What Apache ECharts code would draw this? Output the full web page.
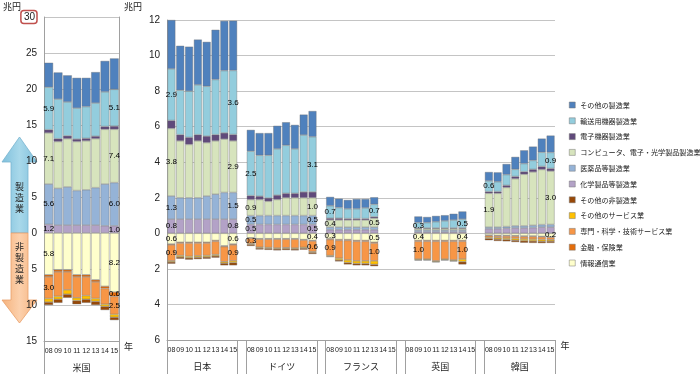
<!DOCTYPE html>
<html><head><meta charset="utf-8">
<script src="https://cdn.jsdelivr.net/npm/echarts@6/dist/echarts.min.js"></script>
<style>html,body{margin:0;padding:0;background:#fff}#c{width:700px;height:374px}</style>
</head><body><div id="c"></div>
<script>
// ---- categories ----
const years = ['08','09','10','11','12','13','14','15'];
const countries = ['米国','日本','ドイツ','フランス','英国','韓国'];
const yTicksUS = [-15,-10,-5,0,5,10,15,20,25,30];
const yTicksOther = [-6,-4,-2,0,2,4,6,8,10,12];

// ---- series values (兆円), 8 years per country: 米国, 日本, ドイツ, フランス, 英国, 韓国 ----
// manufacturing (above zero)
const otherMfg = [ // その他の製造業
  3.4,3.7,3.7,4.2,4.0,4.3,4.3,4.3,
  2.75,2.5,2.5,2.55,2.5,2.8,2.8,2.8,
  1.2,1.25,1.25,1.3,1.3,1.35,1.15,1.45,
  0.5,0.5,0.5,0.55,0.5,0.4,null,null,
  null,0.35,0.32,0.33,0.32,0.35,0.43,null,
  0.5,0.53,0.6,0.7,0.75,0.78,0.77,0.95];
const transport = [ // 輸送用機器製造業
  5.9,5.5,4.7,4.3,4.4,4.6,4.8,5.1,
  2.9,2.5,2.6,2.8,2.8,3.1,3.5,3.6,
  2.5,2.3,2.4,2.6,2.7,2.5,3.2,3.1,
  0.7,0.6,0.55,0.55,0.6,0.7,null,null,
  null,0.3,0.3,0.35,0.4,0.45,0.5,null,
  0.6,0.55,0.6,0.4,0.45,0.5,0.8,0.9];
const electronic = [ // 電子機器製造業
  0.45,0.4,0.4,0.35,0.35,0.35,0.4,0.45,
  0.45,0.35,0.4,0.35,0.37,0.35,0.35,0.36,
  0.22,0.19,0.19,0.25,0.25,0.25,0.33,0.33,
  0.1,0.1,0.08,0.08,0.08,0.08,null,null,
  null,0.04,0.04,0.04,0.04,0.04,0.04,null,
  0.1,0.1,0.12,0.13,0.15,0.15,0.17,0.15];
const computer = [ // コンピュータ、電子・光学製品製造業
  7.1,6.5,6.7,6.8,6.8,6.8,7.6,7.4,
  3.8,3.2,3.0,3.2,3.0,3.0,3.0,2.9,
  0.9,0.9,0.8,0.9,1.0,1.0,1.0,1.0,
  0.4,0.4,0.4,0.4,0.4,0.5,null,null,
  null,0.08,0.08,0.08,0.08,0.08,0.08,null,
  1.9,1.9,2.2,2.65,2.9,3.0,3.1,3.0];
const pharma = [ // 医薬品等製造業
  5.6,5.1,5.3,4.8,4.9,5.2,5.8,6.0,
  1.3,1.2,1.2,1.2,1.3,1.4,1.5,1.5,
  0.5,0.5,0.5,0.5,0.5,0.5,0.5,0.5,
  0.15,0.15,0.15,0.15,0.15,0.15,null,null,
  null,0.1,0.1,0.1,0.1,0.1,0.1,null,
  0.1,0.1,0.1,0.12,0.12,0.13,0.14,0.15];
const chemical = [ // 化学製品等製造業
  1.2,1.1,1.1,1.1,1.1,1.1,1.0,1.0,
  0.8,0.8,0.8,0.8,0.8,0.8,0.8,0.8,
  0.5,0.5,0.5,0.5,0.5,0.5,0.5,0.5,
  0.2,0.2,0.2,0.2,0.2,0.2,null,null,
  null,0.08,0.08,0.08,0.08,0.08,0.08,null,
  0.25,0.25,0.28,0.3,0.3,0.32,0.35,0.35];
// non-manufacturing (drawn below zero)
const infoComm = [ // 情報通信業
  5.8,5.1,5.1,5.8,5.8,6.5,7.4,8.2,
  0.6,0.5,0.5,0.5,0.5,0.4,0.7,0.6,
  0.25,0.3,0.3,0.3,0.3,0.3,0.35,0.4,
  0.3,0.35,0.35,0.4,0.4,0.5,null,null,
  null,0.4,0.4,0.4,0.4,0.4,0.4,null,
  0.1,0.12,0.12,0.13,0.15,0.15,0.17,0.2];
const finance = [ // 金融・保険業
  0.3,0.3,0.3,0.3,0.3,0.3,0.3,0.6,
  0.05,0.05,0.05,0.05,0.05,0.05,0.05,0.05,
  0.03,0.03,0.03,0.03,0.03,0.03,0.03,0.03,
  0.05,0.05,0.05,0.05,0.05,0.05,null,null,
  null,0.05,0.05,0.05,0.05,0.05,0.05,null,
  0.03,0.03,0.03,0.03,0.03,0.03,0.03,0.03];
const professional = [ // 専門・科学・技術サービス業
  3.0,3.4,2.5,2.9,2.6,2.3,2.2,2.5,
  0.9,0.7,0.75,0.72,0.7,0.75,0.85,0.9,
  0.3,0.45,0.47,0.5,0.48,0.5,0.41,0.6,
  0.9,1.0,1.1,1.1,1.1,1.0,null,null,
  null,1.0,1.0,1.1,1.0,1.05,1.0,null,
  0.1,0.1,0.12,0.13,0.14,0.15,0.15,0.13];
const otherService = [ // その他のサービス業
  0.5,0.4,0.6,0.4,0.5,0.4,0.3,0.4,
  0.06,0.08,0.08,0.08,0.08,0.07,0.08,0.1,
  0.05,0.05,0.05,0.05,0.05,0.05,0.05,0.05,
  0.05,0.1,0.15,0.15,0.15,0.2,null,null,
  null,0.05,0.05,0.05,0.05,0.05,0.15,null,
  0.06,0.08,0.08,0.1,0.1,0.1,0.1,0.08];
const otherNonMfg = [ // その他の非製造業
  0.4,0.5,0.5,0.5,0.5,0.5,0.5,0.4,
  0.1,0.1,0.1,0.1,0.1,0.1,0.12,0.15,
  0.08,0.08,0.08,0.08,0.08,0.08,0.08,0.08,
  0.03,0.08,0.1,0.1,0.1,0.1,null,null,
  null,0.03,0.02,0.03,0.02,0.03,0.15,null,
  0.1,0.1,0.1,0.1,0.11,0.11,0.1,0.1];

// which segments carry a value label on the first / last bar of each country
const labelFirst = [
  ['trn','cmp','phm','chm','ict','pro'],
  ['trn','cmp','phm','chm','ict','pro'],
  ['trn','cmp','phm','chm','pro'],
  ['trn','cmp','ict','pro'],
  ['trn','ict','pro'],
  ['trn','cmp']];
const labelLast = [
  ['trn','cmp','phm','chm','ict','fin','pro'],
  ['trn','cmp','phm','chm','ict','pro'],
  ['trn','cmp','phm','chm','ict','pro'],
  ['trn','cmp','ict','pro'],
  ['trn','ict','pro'],
  ['trn','cmp','ict']];

// ---- series definitions (stack order: from zero outward) ----
const seriesDefs = [
  {key:'chm', name:'化学製品等製造業', data:chemical, sign:1, color:'#b3a2c7'},
  {key:'phm', name:'医薬品等製造業', data:pharma, sign:1, color:'#95b3d7'},
  {key:'cmp', name:'コンピュータ、電子・光学製品製造業', data:computer, sign:1, color:'#d7e4bd'},
  {key:'ele', name:'電子機器製造業', data:electronic, sign:1, color:'#604a7b'},
  {key:'trn', name:'輸送用機器製造業', data:transport, sign:1, color:'#93cddd'},
  {key:'oth', name:'その他の製造業', data:otherMfg, sign:1, color:'#4f81bd'},
  {key:'ict', name:'情報通信業', data:infoComm, sign:-1, color:'#ffffcc'},
  {key:'fin', name:'金融・保険業', data:finance, sign:-1, color:'#e46c0a'},
  {key:'pro', name:'専門・科学・技術サービス業', data:professional, sign:-1, color:'#f79646'},
  {key:'svc', name:'その他のサービス業', data:otherService, sign:-1, color:'#ffc000'},
  {key:'nmf', name:'その他の非製造業', data:otherNonMfg, sign:-1, color:'#984807'}
];
const legendOrder = ['その他の製造業','輸送用機器製造業','電子機器製造業','コンピュータ、電子・光学製品製造業',
  '医薬品等製造業','化学製品等製造業','その他の非製造業','その他のサービス業','専門・科学・技術サービス業','金融・保険業','情報通信業'];

// ---- derived category layout ----
const rightCats = [];
for (let c = 1; c < countries.length; c++) {
  years.forEach(y => rightCats.push(y));
  if (c < countries.length - 1) rightCats.push('');
}
const groupCenter = {}; // value-axis position -> country name
for (let c = 1; c < countries.length; c++) groupCenter[(c - 1) * 9 + 4] = countries[c];

function firstLast(c) {
  const idx = [];
  for (let y = 0; y < years.length; y++) if (chemical[c * 8 + y] != null) idx.push(y);
  return [idx[0], idx[idx.length - 1]];
}
function item(def, c, y) {
  const v = def.data[c * 8 + y];
  if (v == null) return null;
  const [f, l] = firstLast(c);
  const show = (y === f && labelFirst[c].includes(def.key)) || (y === l && labelLast[c].includes(def.key));
  return show ? {value: def.sign * v, label: {show: true}} : def.sign * v;
}
const labelStyle = {
  position: 'inside', color: '#000', fontSize: 8, fontFamily: 'Liberation Sans, Arial',
  textBorderWidth: 0, formatter: p => Math.abs(p.value).toFixed(1)
};
const barStyle = c => ({color: c, borderColor: 'rgba(110,110,110,0.75)', borderWidth: 0.5});

const series = [];
seriesDefs.forEach(def => {
  const us = years.map((y, i) => item(def, 0, i));
  const right = [];
  for (let c = 1; c < countries.length; c++) {
    years.forEach((y, i) => right.push(item(def, c, i)));
    if (c < countries.length - 1) right.push(null);
  }
  series.push({name: def.name, type: 'bar', xAxisIndex: 0, yAxisIndex: 0, stack: 'us',
    barCategoryGap: '6%', data: us, itemStyle: barStyle(def.color), label: labelStyle});
  series.push({name: def.name, type: 'bar', xAxisIndex: 2, yAxisIndex: 2, stack: 'other',
    barCategoryGap: '10%', data: right, itemStyle: barStyle(def.color), label: labelStyle});
});

const gridLine = {show: true, lineStyle: {color: '#c4c4c4', width: 1}};
const axisGray = {show: true, lineStyle: {color: '#a0a0a0', width: 1}};
const numFont = 'Liberation Sans, Arial';
const cjk = 'Noto Sans CJK JP';
const sepTicks = {show: true, length: 34, lineStyle: {color: '#a0a0a0', width: 1}};

const chart = echarts.init(document.getElementById('c'), null, {renderer: 'canvas'});
chart.setOption({
  animation: false,
  backgroundColor: '#fff',
  grid: [
    {left: 44, top: 17, width: 75, height: 324},
    {left: 167, top: 20, width: 388, height: 320}
  ],
  xAxis: [
    {type: 'category', gridIndex: 0, data: years, axisLine: {show: true, onZero: false, lineStyle: {color: '#a0a0a0'}},
      axisTick: Object.assign({}, sepTicks, {interval: (i) => i === 0}),
      axisLabel: {interval: 0, fontSize: 7, margin: 7, color: '#222', fontFamily: numFont},
      name: '年', nameLocation: 'end', nameGap: 3,
      nameTextStyle: {fontSize: 9, color: '#222', fontFamily: cjk, verticalAlign: 'top', padding: [1, 0, 0, 0]}},
    {type: 'value', gridIndex: 0, min: 0, max: 8, interval: 1, position: 'bottom',
      axisLine: {show: false}, axisTick: {show: false}, splitLine: {show: false},
      axisLabel: {margin: 22, fontSize: 9, color: '#222', fontFamily: cjk, formatter: v => v === 4 ? countries[0] : ''}},
    {type: 'category', gridIndex: 1, data: rightCats, axisLine: {show: true, onZero: false, lineStyle: {color: '#a0a0a0'}},
      axisTick: Object.assign({}, sepTicks, {interval: (i, v) => i === 0 || v === '' || rightCats[i - 1] === ''}),
      axisLabel: {interval: 0, fontSize: 7, margin: 7, color: '#222', fontFamily: numFont},
      name: '年', nameLocation: 'end', nameGap: 3,
      nameTextStyle: {fontSize: 9, color: '#222', fontFamily: cjk, verticalAlign: 'top', padding: [1, 0, 0, 0]}},
    {type: 'value', gridIndex: 1, min: 0, max: 44, interval: 1, position: 'bottom',
      axisLine: {show: false}, axisTick: {show: false}, splitLine: {show: false},
      axisLabel: {margin: 22, fontSize: 9, color: '#222', fontFamily: cjk, formatter: v => groupCenter[v] || ''}}
  ],
  yAxis: [
    {type: 'value', gridIndex: 0, min: yTicksUS[0], max: yTicksUS[yTicksUS.length - 1], interval: 5,
      axisLine: axisGray, axisTick: {show: false}, splitLine: gridLine,
      axisLabel: {margin: 7, fontSize: 10, color: '#222', fontFamily: numFont,
        formatter: v => v === 30 ? '{box|30}' : String(Math.abs(v)),
        rich: {box: {fontSize: 10, color: '#222', fontFamily: numFont, borderColor: '#c0504d', borderWidth: 1.5,
          borderRadius: 3, padding: [2, 2, 1, 3]}}}},
    {type: 'value', gridIndex: 0, position: 'right', min: yTicksUS[0], max: yTicksUS[yTicksUS.length - 1], interval: 5,
      axisLine: axisGray, axisTick: {show: false}, axisLabel: {show: false}, splitLine: {show: false}},
    {type: 'value', gridIndex: 1, min: yTicksOther[0], max: yTicksOther[yTicksOther.length - 1], interval: 2,
      axisLine: axisGray, axisTick: {show: false}, splitLine: gridLine,
      axisLabel: {margin: 7, fontSize: 10, color: '#222', fontFamily: numFont, formatter: v => String(Math.abs(v))}}
  ],
  legend: {
    data: legendOrder, orient: 'vertical', left: 564, top: 95, itemWidth: 6, itemHeight: 6, itemGap: 5.8,
    icon: 'rect', selectedMode: false,
    itemStyle: {borderColor: '#777', borderWidth: 0.5},
    textStyle: {fontSize: 7.1, lineHeight: 10, color: '#222', fontFamily: cjk}
  },
  graphic: [
    {type: 'text', left: 3, top: 2, style: {text: '兆円', fontSize: 9, fill: '#222', fontFamily: cjk}},
    {type: 'text', left: 124, top: 2, style: {text: '兆円', fontSize: 9, fill: '#222', fontFamily: cjk}},
    {type: 'polygon', shape: {points: [[19.5,137],[37,162],[28,162],[28,233],[11,233],[11,162],[2,162]]},
      style: {fill: new echarts.graphic.LinearGradient(0,0,1,0,[{offset:0,color:'#7fc0dc'},{offset:0.5,color:'#a8d8ea'},{offset:1,color:'#7fc0dc'}]),
        stroke: '#78b4cf', lineWidth: 0.8}},
    {type: 'polygon', shape: {points: [[11,233],[28,233],[28,300],[37,300],[19.5,323],[2,300],[11,300]]},
      style: {fill: new echarts.graphic.LinearGradient(0,0,1,0,[{offset:0,color:'#f5b27c'},{offset:0.5,color:'#fcd0ac'},{offset:1,color:'#f5b27c'}]),
        stroke: '#e9a06a', lineWidth: 0.8}},
    {type: 'text', x: 19.5, y: 198, style: {text: '製\n造\n業', fontSize: 9, lineHeight: 11, fill: '#222', fontFamily: cjk,
      align: 'center', verticalAlign: 'middle'}},
    {type: 'text', x: 19.5, y: 263, style: {text: '非\n製\n造\n業', fontSize: 9, lineHeight: 11, fill: '#222', fontFamily: cjk,
      align: 'center', verticalAlign: 'middle'}}
  ],
  series: series
});
</script></body></html>
